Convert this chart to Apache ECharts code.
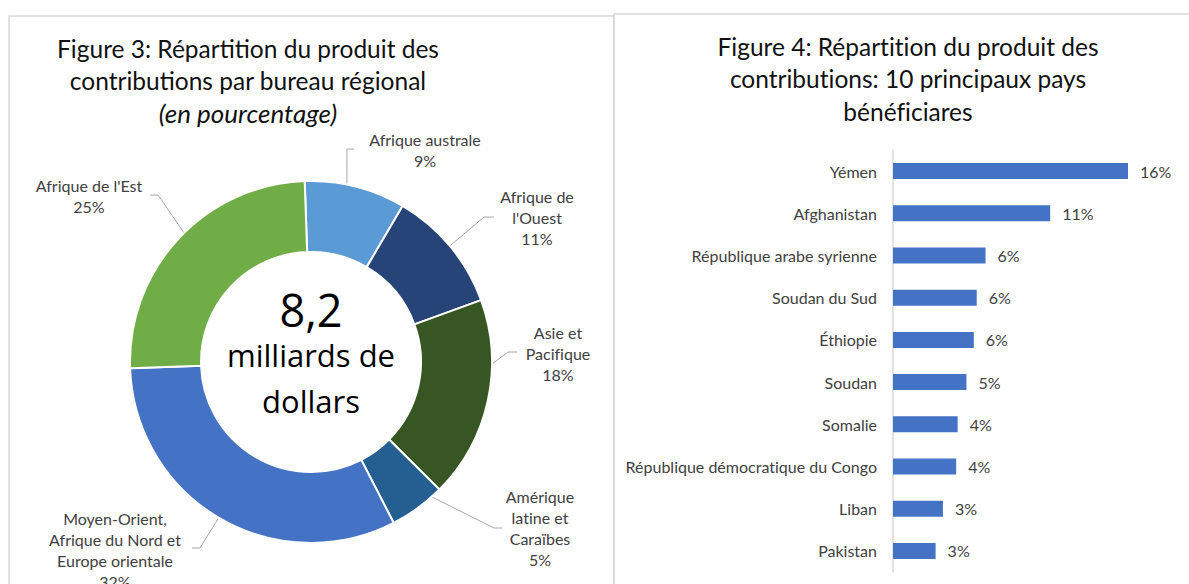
<!DOCTYPE html>
<html>
<head>
<meta charset="utf-8">
<script src="https://cdn.jsdelivr.net/npm/echarts@6/dist/echarts.min.js"></script>
<style>
	html, body { margin: 0; padding: 0; background: #fff; }
	#main { width: 1189px; height: 584px; }
	#main text { font-variant-ligatures: none; }
</style>
</head>
<body>
<div id="main"></div>
<script>
/* Figure 3 : produit des contributions par bureau régional (%) */
var regions = ["Afrique australe", "Afrique de\nl'Ouest", "Asie et\nPacifique", "Amérique\nlatine et\nCaraïbes", "Moyen-Orient,\nAfrique du Nord et\nEurope orientale", "Afrique de l'Est"];
var regionShares = [9, 11, 18, 5, 32, 25];

/* Figure 4 : 10 principaux pays bénéficiaires (%) */
var countries = ["Yémen", "Afghanistan", "République arabe syrienne", "Soudan du Sud", "Éthiopie", "Soudan", "Somalie", "République démocratique du Congo", "Liban", "Pakistan"];
var countryShares = [16, 10.7, 6.3, 5.7, 5.5, 5.0, 4.4, 4.3, 3.4, 2.9];

var regionColors = ["#5B9BD5", "#264478", "#375623", "#255E91", "#4472C4", "#70AD47"];
var labelColor = "#404040";
var font = "Lato, 'Open Sans', sans-serif";

// donut geometry
var pieCenter = [311, 362], pieRadius = [110, 181], pieStart = 92;
// where each slice label sits, and the bend of its leader line
var labelSpots = [
	{x: 425, y: 150, elbow: [347, 149], end: [354, 149]},
	{x: 537, y: 217, elbow: [484, 217], end: [494, 217]},
	{x: 558, y: 353, elbow: [508, 352], end: [517, 352]},
	{x: 540, y: 528, elbow: [494, 528], end: [502, 528]},
	{x: 115, y: 550, elbow: [200, 548], end: [192, 548]},
	{x: 89, y: 196, elbow: [158, 195], end: [150, 195]}
];

function midRingPoint(i){
	var total = 0, before = 0, k;
	for (k = 0; k < regionShares.length; k++) {
		total += regionShares[k];
		if (k < i) before += regionShares[k];
	}
	var ang = (pieStart - (before + regionShares[i] / 2) / total * 360) * Math.PI / 180;
	var r = (pieRadius[0] + pieRadius[1]) / 2;
	return [pieCenter[0] + r * Math.cos(ang), pieCenter[1] - r * Math.sin(ang)];
}

var chart = echarts.init(document.getElementById('main'), null, {renderer: 'svg'});

var option = {
	animation: false,
	graphic: [
		// panel frames
		{type: 'rect', shape: {x: 9, y: 16, width: 605, height: 620}, style: {fill: 'none', stroke: '#d9d9d9', lineWidth: 1.5}, silent: true},
		{type: 'rect', shape: {x: 614, y: 14, width: 620, height: 620}, style: {fill: 'none', stroke: '#d9d9d9', lineWidth: 1.5}, silent: true},
		{
			type: 'text', x: 248, y: 32,
			style: {
				text: "Figure 3: Répartition du produit des\ncontributions par bureau régional\n{i|(en pourcentage)}",
				align: 'center', textAlign: 'center', verticalAlign: 'top',
				fill: '#111', fontSize: 24.5, fontFamily: font, lineHeight: 32.5,
				rich: {i: {fontStyle: 'italic', fontSize: 26, fontFamily: font, lineHeight: 32.5, fill: '#111'}}
			}
		},
		{
			type: 'text', x: 908, y: 30,
			style: {
				text: "Figure 4: Répartition du produit des\ncontributions: 10 principaux pays\nbénéficiares",
				align: 'center', textAlign: 'center', verticalAlign: 'top',
				fill: '#111', fontSize: 24.5, fontFamily: font, lineHeight: 32.5
			}
		},
		{
			type: 'text', x: pieCenter[0], y: 286,
			style: {
				text: "{a|8,2}\n{b|milliards de}\n{b|dollars}",
				align: 'center', textAlign: 'center', verticalAlign: 'top',
				fill: '#000',
				rich: {
					a: {fontSize: 45, lineHeight: 46, fontFamily: "'Open Sans', sans-serif", fill: '#000'},
					b: {fontSize: 31, lineHeight: 46, fontFamily: "'Open Sans', sans-serif", fill: '#000'}
				}
			}
		}
	],
	grid: {left: 893, top: 150, width: 264.4, height: 422},
	xAxis: {type: 'value', min: 0, max: 18, show: false},
	yAxis: {
		type: 'category', data: countries, inverse: true,
		axisLine: {lineStyle: {color: '#d9d9d9', width: 1.5}},
		axisTick: {show: false},
		axisLabel: {margin: 16, fontSize: 16, color: labelColor, fontFamily: font}
	},
	series: [
		{
			type: 'pie',
			center: pieCenter,
			radius: pieRadius,
			startAngle: pieStart,
			clockwise: true,
			avoidLabelOverlap: false,
			itemStyle: {borderColor: '#fff', borderWidth: 2},
			label: {
				show: true, position: 'outside',
				formatter: '{b}\n{c}%',
				color: labelColor, fontSize: 16, lineHeight: 21, fontFamily: font, align: 'center'
			},
			labelLine: {show: true, length: 10, length2: 10, lineStyle: {color: '#a6a6a6', width: 1}},
			labelLayout: function(params){
				var i = params.dataIndex, s = labelSpots[i];
				return {
					x: s.x, y: s.y, align: 'center', verticalAlign: 'middle',
					labelLinePoints: [midRingPoint(i), s.elbow, s.end]
				};
			},
			data: regions.map(function(name, i){
				return {name: name, value: regionShares[i], itemStyle: {color: regionColors[i]}};
			})
		},
		{
			type: 'bar',
			data: countryShares,
			barWidth: 16,
			itemStyle: {color: '#4472C4'},
			label: {
				show: true, position: 'right', distance: 12,
				formatter: function(p){ return Math.round(p.value) + '%'; },
				fontSize: 16, color: labelColor, fontFamily: font
			}
		}
	]
};
chart.setOption(option);
</script>
</body>
</html>
